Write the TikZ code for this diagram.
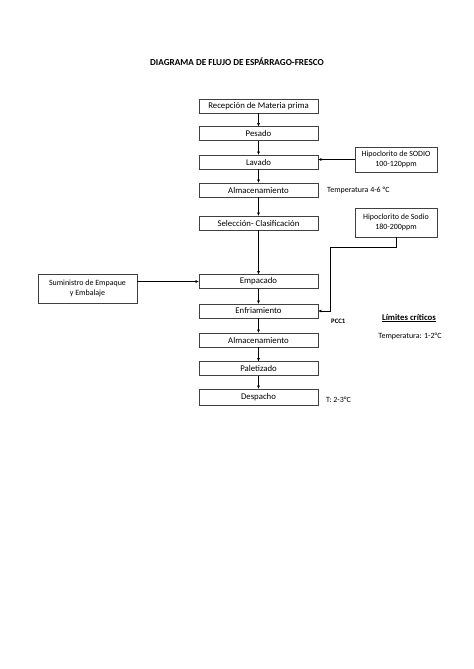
\documentclass[tikz,border=0pt]{standalone}
\usepackage{fontspec}
\setmainfont{Carlito}
\usetikzlibrary{arrows.meta}
\begin{document}
\begin{tikzpicture}[x=1.2552pt,y=-1.2552pt,
  box/.style={draw=black!75, line width=0.5pt, minimum width=119*1.2552pt, minimum height=14*1.2552pt, inner sep=0pt, font=\fontsize{11}{12}\selectfont},
  sbox/.style={draw=black!75, line width=0.5pt, inner sep=0pt, align=center, font=\fontsize{10}{13}\selectfont},
  arr/.style={-{Latex[length=4pt,width=3.5pt]}, line width=0.5pt, black},
  small/.style={font=\fontsize{10}{11}\selectfont, inner sep=0pt, anchor=west}]
\useasboundingbox (0,0) rectangle (474,669);
\fill[white] (0,0) rectangle (474,669);
\node[font=\bfseries\fontsize{11.5}{13}\selectfont] (title) at (237,62) {DIAGRAMA DE FLUJO DE ESPÁRRAGO-FRESCO};
\node[box] (rec) at (258.5,106) {Recepción de Materia prima};
\node[box] (pes) at (258.5,133.5) {Pesado};
\node[box] (lav) at (258.5,162) {Lavado};
\node[box] (alm) at (258.5,190) {Almacenamiento};
\node[box] (sel) at (258.5,223) {Selección- Clasificación};
\node[box] (emp) at (258.5,281.5) {Empacado};
\node[box] (enf) at (258.5,311) {Enfriamiento};
\node[box] (alm2) at (258.5,340) {Almacenamiento};
\node[box] (pal) at (258.5,368.5) {Paletizado};
\node[box, minimum height=16*1.2552pt] (des) at (258.5,397) {Despacho};
\node[sbox, minimum width=82*1.2552pt, minimum height=25*1.2552pt] (hip1) at (396,159.5) {Hipoclorito de SODIO\\100-120ppm};
\node[sbox, minimum width=82*1.2552pt, minimum height=29*1.2552pt] (hip2) at (396,222.5) {Hipoclorito de Sodio\\180-200ppm};
\node[sbox, minimum width=99*1.2552pt, minimum height=29*1.2552pt] (sum) at (87.5,288.5) {Suministro de Empaque\\y Embalaje};
\node[small] (t1) at (327,190) {Temperatura 4-6 °C};
\node[small, font=\bfseries\fontsize{8.5}{9}\selectfont] (pcc) at (331,321) {PCC1};
\node[font=\bfseries\fontsize{11}{12}\selectfont, inner sep=0pt] (lim) at (409,318) {\underline{Límites críticos}};
\node[font=\fontsize{10}{11}\selectfont, inner sep=0pt] (t2) at (410,336) {Temperatura: 1-2°C};
\node[small] (t3) at (326,400) {T: 2-3°C};
\coordinate (c1) at (330,247);
\draw[arr] (rec) -- (pes);
\draw[arr] (pes) -- (lav);
\draw[arr] (lav) -- (alm);
\draw[arr] (alm) -- (sel);
\draw[arr] (sel) -- (emp);
\draw[arr] (emp) -- (enf);
\draw[arr] (enf) -- (alm2);
\draw[arr] (alm2) -- (pal);
\draw[arr] (pal) -- (des);
\draw[arr] (hip1.west) -- (hip1.west -| lav.east);
\draw[arr] (hip2.south) |- (c1) |- (enf.east);
\draw[arr] (sum.east |- emp.west) -- (emp.west);
\end{tikzpicture}
\end{document}
